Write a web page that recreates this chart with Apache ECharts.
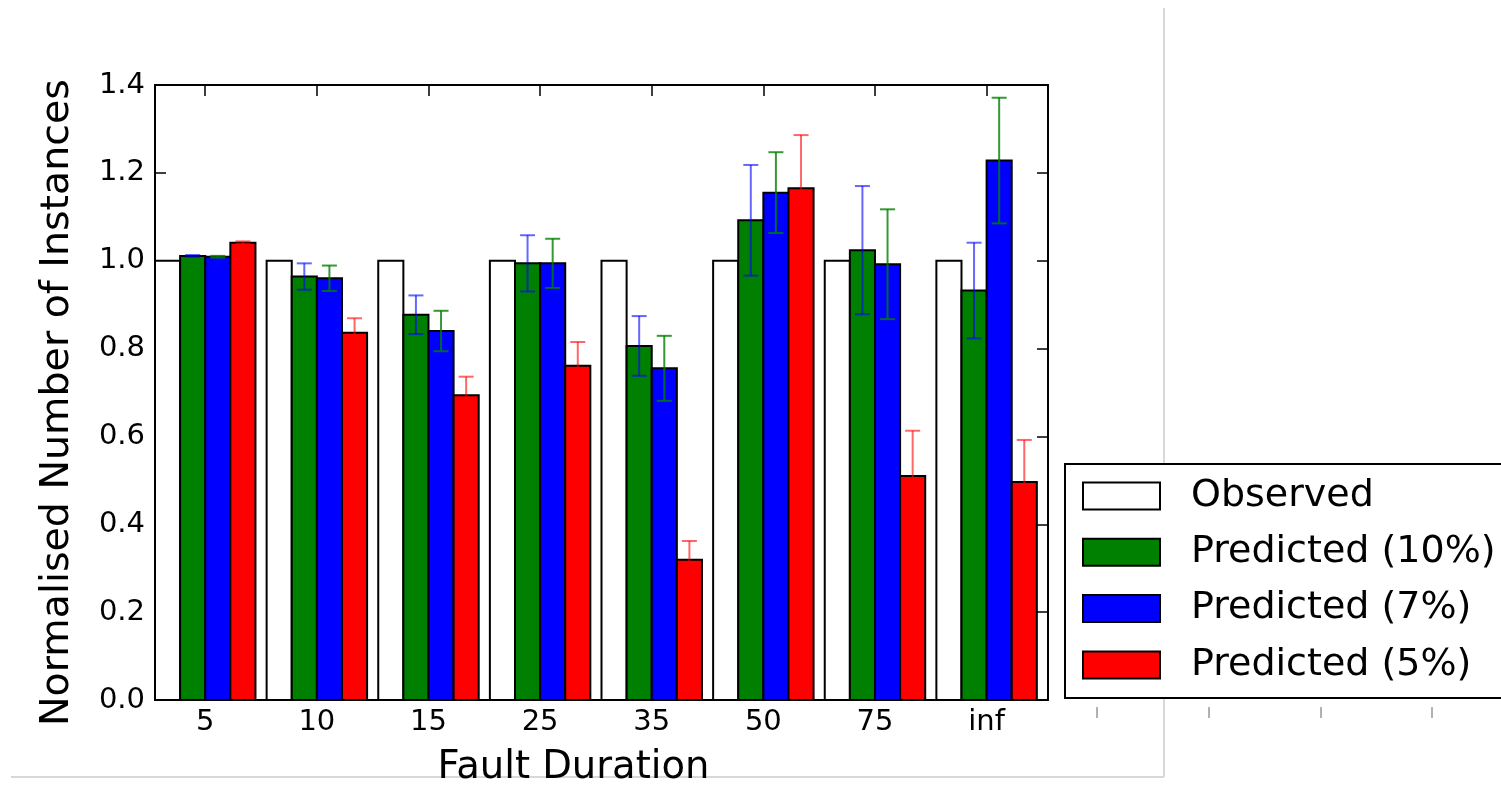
<!DOCTYPE html>
<html>
<head>
<meta charset="utf-8">
<script src="https://cdn.jsdelivr.net/npm/echarts@6/dist/echarts.min.js"></script>
<style>
html,body{margin:0;padding:0;background:#fff;}
#chart{width:1501px;height:788px;}
</style>
</head>
<body>
<div id="chart"></div>
<script>
// ---- data ----
const categories = ['5', '10', '15', '25', '35', '50', '75', 'inf'];
const observed = [1.0, 1.0, 1.0, 1.0, 1.0, 1.0, 1.0, 1.0];
const pred10 = [1.011, 0.964, 0.877, 0.994, 0.806, 1.092, 1.024, 0.932];
const pred7 = [1.009, 0.960, 0.840, 0.994, 0.755, 1.155, 0.992, 1.228];
const pred5 = [1.041, 0.836, 0.694, 0.761, 0.319, 1.165, 0.510, 0.496];
const err10 = [0.002, 0.030, 0.044, 0.064, 0.068, 0.126, 0.146, 0.109];
const err7 = [0.002, 0.029, 0.046, 0.056, 0.074, 0.092, 0.125, 0.143];
const err5 = [0.003, 0.033, 0.042, 0.054, 0.043, 0.121, 0.103, 0.096];
const yTicks = [0, 0.2, 0.4, 0.6, 0.8, 1.0, 1.2, 1.4];
const seriesNames = ['Observed', 'Predicted (10%)', 'Predicted (7%)', 'Predicted (5%)'];

const FONT = 'DejaVu Sans';
const W = 0.225; // bar width in x units
const positions = categories.map((c, i) => i);

const chart = echarts.init(document.getElementById('chart'), null, {renderer: 'canvas'});

function barSeries(name, values, offset, color, z) {
  return {
    name: name,
    type: 'custom',
    z: z,
    xAxisIndex: 0, yAxisIndex: 0,
    itemStyle: {color: color, borderColor: '#000', borderWidth: 2},
    data: values.map((v, i) => [positions[i], v]),
    encode: {x: 0, y: 1},
    clip: false,
    renderItem: function (params, api) {
      const x = api.value(0), v = api.value(1);
      const p0 = api.coord([x + offset, v]);
      const p1 = api.coord([x + offset + W, 0]);
      return {
        type: 'rect',
        shape: {x: p0[0], y: p0[1], width: p1[0] - p0[0], height: p1[1] - p0[1]},
        style: {fill: color, stroke: '#000', lineWidth: 2}
      };
    }
  };
}

function errSeries(values, errs, center, color, z) {
  return {
    type: 'custom',
    z: z,
    silent: true,
    clip: false,
    xAxisIndex: 0, yAxisIndex: 0,
    data: values.map((v, i) => [positions[i], v, errs[i]]),
    encode: {x: 0, y: 1},
    renderItem: function (params, api) {
      const x = api.value(0) + center, v = api.value(1), e = api.value(2);
      const top = api.coord([x, v + e]);
      const bot = api.coord([x, v - e]);
      const cap = 7.5;
      const st = {stroke: color, lineWidth: 2};
      return {
        type: 'group',
        children: [
          {type: 'line', shape: {x1: top[0], y1: top[1], x2: bot[0], y2: bot[1]}, style: st},
          {type: 'line', shape: {x1: top[0] - cap, y1: top[1], x2: top[0] + cap, y2: top[1]}, style: st},
          {type: 'line', shape: {x1: bot[0] - cap, y1: bot[1], x2: bot[0] + cap, y2: bot[1]}, style: st}
        ]
      };
    }
  };
}

const tickStyle = {show: true, inside: true, length: 11, lineStyle: {color: '#000', width: 1.5}};
const lineStyle = {show: true, onZero: false, lineStyle: {color: '#000', width: 2}};

const option = {
  animation: false,
  backgroundColor: '#fff',
  textStyle: {fontFamily: FONT},
  grid: {left: 155, top: 85, width: 893, height: 615, containLabel: false, outerBoundsMode: 'none'},
  xAxis: [
    {
      type: 'value', position: 'bottom', min: -0.45, max: 7.55, z: 1,
      splitLine: {show: false},
      axisLine: lineStyle,
      axisTick: Object.assign({customValues: positions}, tickStyle),
      axisLabel: {
        customValues: positions, margin: 8, color: '#000', fontSize: 29, fontFamily: FONT,
        formatter: v => categories[Math.round(v)]
      },
      name: 'Fault Duration', nameLocation: 'middle', nameGap: 48,
      nameTextStyle: {fontSize: 38.5, color: '#000', fontFamily: FONT, padding: [0, 56, 0, 0]}
    },
    {
      type: 'value', position: 'top', min: -0.45, max: 7.55,
      splitLine: {show: false},
      axisLine: lineStyle,
      axisTick: Object.assign({customValues: positions}, tickStyle),
      axisLabel: {show: false}
    }
  ],
  yAxis: [
    {
      type: 'value', position: 'left', min: 0, max: 1.4, interval: 0.2,
      splitLine: {show: false},
      axisLine: lineStyle,
      axisTick: tickStyle,
      axisLabel: {margin: 10, color: '#000', fontSize: 29, fontFamily: FONT, formatter: v => v.toFixed(1)},
      name: 'Normalised Number of Instances', nameLocation: 'middle', nameGap: 77, nameRotate: 90,
      nameTextStyle: {fontSize: 39.5, color: '#000', fontFamily: FONT, padding: [0, 20, 0, 0]}
    },
    {
      type: 'value', position: 'right', min: 0, max: 1.4, interval: 0.2,
      splitLine: {show: false},
      axisLine: lineStyle,
      axisTick: tickStyle,
      axisLabel: {show: false}
    }
  ],
  legend: {
    orient: 'vertical',
    left: 1082, top: 477,
    padding: 0,
    itemWidth: 77, itemHeight: 27, itemGap: 18.3,
    icon: 'rect',
    selectedMode: false,
    z: 6,
    textStyle: {fontSize: 38, color: '#000', fontFamily: FONT, padding: [0, 0, 0, 26]},
    data: [
      {name: seriesNames[0], itemStyle: {color: '#fff', borderColor: '#000', borderWidth: 2}},
      {name: seriesNames[1], itemStyle: {color: '#008000', borderColor: '#000', borderWidth: 2}},
      {name: seriesNames[2], itemStyle: {color: '#0000ff', borderColor: '#000', borderWidth: 2}},
      {name: seriesNames[3], itemStyle: {color: '#ff0000', borderColor: '#000', borderWidth: 2}}
    ]
  },
  graphic: [
    {type: 'line', z: -1, shape: {x1: 1164, y1: 8, x2: 1164, y2: 777}, style: {stroke: '#d8d8d8', lineWidth: 2}},
    {type: 'line', z: -1, shape: {x1: 11, y1: 777, x2: 1164, y2: 777}, style: {stroke: '#d8d8d8', lineWidth: 2}},
    {type: 'rect', z: 5, shape: {x: 1065, y: 464, width: 520, height: 234}, style: {fill: '#fff', stroke: '#000', lineWidth: 2}},
    {type: 'line', z: 1, shape: {x1: 1097, y1: 707, x2: 1097, y2: 718}, style: {stroke: '#999', lineWidth: 1.5}},
    {type: 'line', z: 1, shape: {x1: 1209, y1: 707, x2: 1209, y2: 718}, style: {stroke: '#999', lineWidth: 1.5}},
    {type: 'line', z: 1, shape: {x1: 1321, y1: 707, x2: 1321, y2: 718}, style: {stroke: '#999', lineWidth: 1.5}},
    {type: 'line', z: 1, shape: {x1: 1432, y1: 707, x2: 1432, y2: 718}, style: {stroke: '#999', lineWidth: 1.5}}
  ],
  series: [
    barSeries(seriesNames[0], observed, -2 * W, '#ffffff', 2),
    barSeries(seriesNames[1], pred10, -W, '#008000', 3),
    errSeries(pred10, err10, -W / 2, 'rgba(0,0,255,0.6)', 3.5),
    barSeries(seriesNames[2], pred7, 0, '#0000ff', 4),
    errSeries(pred7, err7, W / 2, 'rgba(0,128,0,0.8)', 4.5),
    barSeries(seriesNames[3], pred5, W, '#ff0000', 5),
    errSeries(pred5, err5, 1.5 * W, 'rgba(255,0,0,0.6)', 5.5)
  ]
};

chart.setOption(option);
</script>
</body>
</html>
